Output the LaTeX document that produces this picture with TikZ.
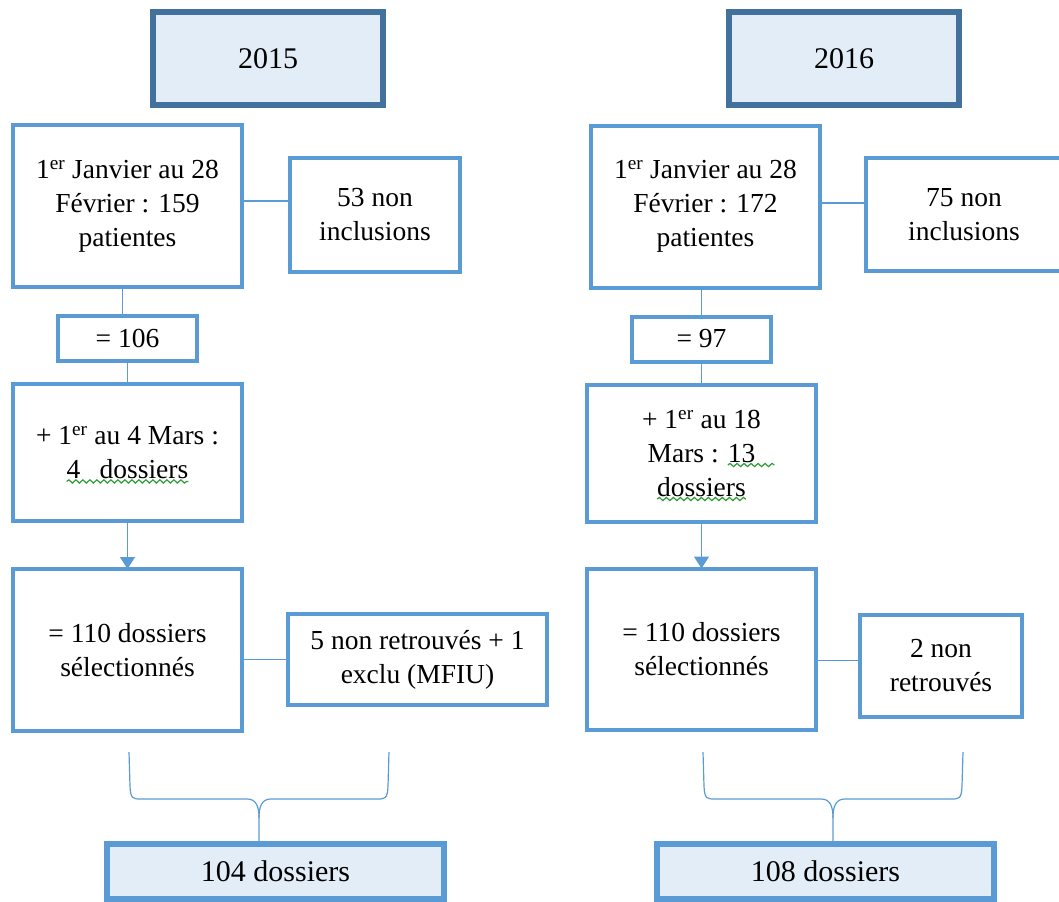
\documentclass[tikz,border=0pt]{standalone}
\usepackage{fontspec}
\setmainfont{Liberation Serif}
\usetikzlibrary{arrows.meta, positioning, decorations.pathmorphing}

\definecolor{boxblue}{HTML}{5B9BD5}
\definecolor{darkblue}{HTML}{41719C}
\definecolor{lightfill}{HTML}{E3EDF8}
\definecolor{spellgreen}{HTML}{2E9B37}

\newcommand{\bodyfont}{\fontsize{27.5bp}{34bp}\selectfont}
\newcommand{\bigfont}{\fontsize{30bp}{36bp}\selectfont}
% green squiggle under a word, #1 = extra length on the right
\newcommand{\wavy}[2][0bp]{%
  \tikz[baseline=(w.base)]{%
    \node[inner sep=0pt, outer sep=0pt, minimum width=0pt, minimum height=0pt, draw=none, fill=none, anchor=base] (w) {#2};
    \draw[squiggle, overlay] ([yshift=-3bp]w.base west) -- ([xshift=#1, yshift=-3bp]w.base east);}}

\begin{document}
\begin{tikzpicture}[
    x=1bp, y=-1bp,
    box/.style={rectangle, draw=boxblue, line width=4bp, minimum width=229bp, align=center, inner sep=0pt, outer sep=0pt, font=\bodyfont},
    yearbox/.style={rectangle, draw=darkblue, line width=6.5bp, fill=lightfill, minimum width=230bp, minimum height=93bp, outer sep=0pt, font=\bigfont},
    totalbox/.style={rectangle, draw=boxblue, line width=6.5bp, fill=lightfill, minimum width=337bp, minimum height=55bp, outer sep=0pt, font=\bigfont},
    link/.style={draw=boxblue, line width=1.3bp},
    arrow/.style={link, -{Triangle[width=15bp, length=12bp]}},
    brace/.style={draw=boxblue, line width=1.2bp},
    squiggle/.style={draw=spellgreen, line width=1.2bp, decorate, decoration={snake, amplitude=1.6bp, segment length=7bp}}
]
\useasboundingbox (0,0) rectangle (1059,902);
\clip (0,0) rectangle (1059,902);

% 2015
\node[yearbox] (Y15) at (268,58.5) {2015};
\node[box, minimum height=162bp] (A1) at (127.5,206) {1\textsuperscript{er} Janvier au 28\\Février : 159\\patientes};
\node[box, minimum width=170bp, minimum height=114bp, right=48bp of A1, yshift=-9bp] (B1) {53 non\\inclusions};
\node[box, minimum width=139bp, minimum height=45bp, below=29bp of A1] (E106) {= 106};
\node[box, minimum height=137bp, below=23bp of E106] (A3) {+ 1\textsuperscript{er} au 4 Mars :\\\wavy{4\hspace{0.7em}dossiers}};
\node[box, minimum height=162bp, below=48bp of A3] (A4) {= 110 dossiers\\sélectionnés};
\node[box, minimum width=259bp, minimum height=91bp, right=46bp of A4, yshift=-9.5bp] (C4) {5 non retrouvés + 1\\exclu (MFIU)};
\node[totalbox] (T15) at (275.5,871.5) {104 dossiers};

% 2016
\node[yearbox] (Y16) at (844,58.5) {2016};
\node[box, minimum height=162bp] (R1) at (705.5,206.5) {1\textsuperscript{er} Janvier au 28\\Février : 172\\patientes};
\node[box, minimum width=196bp, minimum height=113bp, right=46bp of R1, yshift=-8bp] (S1) {75 non\\inclusions};
\node[box, minimum width=139bp, minimum height=45bp, below=29bp of R1, xshift=-4bp] (E97) {= 97};
\node[box, minimum height=137bp, below=23bp of E97] (R3) {+ 1\textsuperscript{er} au 18\\Mars : \wavy[19bp]{13}\\\wavy{dossiers}};
\node[box, minimum height=161bp, below=47bp of R3] (R4) {= 110 dossiers\\sélectionnés};
\node[box, minimum width=162bp, minimum height=102bp, right=44bp of R4, yshift=-16.5bp] (S4) {2 non\\retrouvés};
\node[totalbox] (T16) at (825.5,871.5) {108 dossiers};

% links 2015
\draw[link] ([yshift=5bp]A1.east) -- ([yshift=5bp]A1.east -| B1.west);
\draw[link] ([xshift=-5bp]A1.south) -- ([xshift=-5bp]A1.south |- E106.north);
\draw[link] (E106.south) -- (E106.south |- A3.north);
\draw[arrow] (A3.south) -- (A4.north);
\draw[link] (C4.west) -- (C4.west -| A4.east);

% links 2016
\draw[link] ([yshift=3.5bp]R1.east) -- ([yshift=3.5bp]R1.east -| S1.west);
\draw[link] (E97.north) -- (E97.north |- R1.south);
\draw[link] (E97.south) -- (R3.north);
\draw[arrow] (R3.south) -- (R4.north);
\draw[link] ([yshift=5bp]S4.west) -- ([yshift=5bp]S4.west -| R4.east);

% braces
\foreach \bx/\total in {129/T15, 703/T16} {
  \coordinate (tip) at ({\bx+130},818);
  \draw[brace] (\bx,752) -- ({\bx+1},786) .. controls ({\bx+1.5},799) and ({\bx+4},799) .. ({\bx+12},799)
    -- ({\bx+118},799) .. controls ({\bx+127},799) and ({\bx+130},806) .. (tip) -- (tip |- \total.north);
  \draw[brace] ({\bx+260},752) -- ({\bx+259},786) .. controls ({\bx+258.5},799) and ({\bx+256},799) .. ({\bx+248},799)
    -- ({\bx+142},799) .. controls ({\bx+133},799) and ({\bx+130},806) .. (tip);
}

\end{tikzpicture}
\end{document}
